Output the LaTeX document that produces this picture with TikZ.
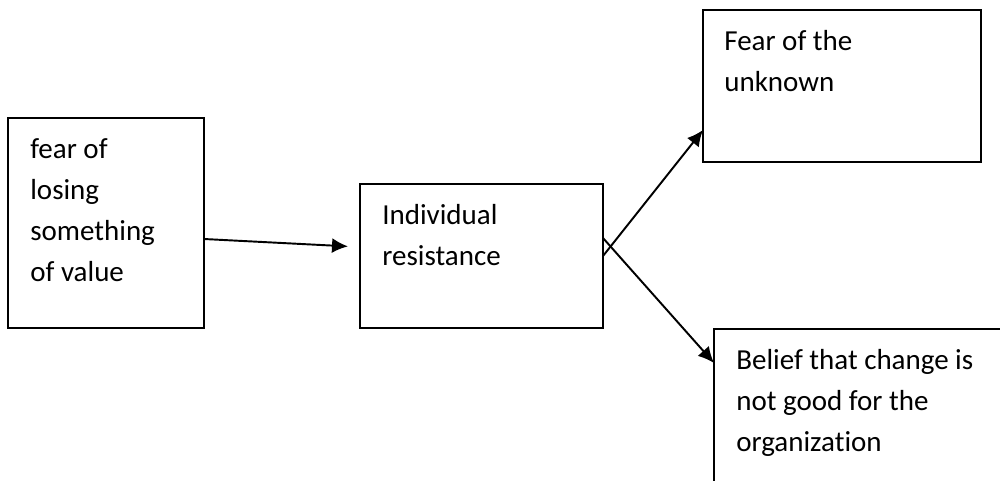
\documentclass[tikz,border=0pt]{standalone}
\usepackage{fontspec}
\setmainfont{Carlito}[Ligatures=NoCommon]
\usetikzlibrary{calc,positioning}
\usetikzlibrary{arrows.meta}
\tikzset{>={Latex[length=3.2mm,width=3mm]}}

\begin{document}
\begin{tikzpicture}[box/.style = {draw, line width=0.8pt, inner sep=0pt, outer sep=0pt},
    txt/.style = {anchor=north west, inner sep=0pt, align=left, font=\fontsize{16.5}{23.3}\selectfont}]
    \useasboundingbox (0,0) rectangle (20,9.6);
    \clip (0,0) rectangle (20,9.6);
    % boxes
    \node[box, minimum width=3.92cm, minimum height=4.2cm] (1) at (2.12,5.14) {};
    \node[box, minimum width=4.86cm, minimum height=2.88cm] (2) at (9.63,4.48) {};
    \node[box, minimum width=5.56cm, minimum height=3.04cm] (3) at (16.84,7.88) {};
    \node[box, minimum width=6cm, minimum height=3.6cm, anchor=north west] (4) at (14.28,3.02) {};
    % texts
    \node[txt] (t1) at ($(1.north west)+(0.44,-0.4)$) {fear of\\losing\\something\\of value};
    \node[txt] (t2) at ($(2.north west)+(0.44,-0.4)$) {Individual\\resistance};
    \node[txt] (t3) at ($(3.north west)+(0.42,-0.4)$) {Fear of the\\unknown};
    \node[txt] (t4) at ($(4.north west)+(0.44,-0.4)$) {Belief that change is\\not good for the\\organization};
    % arrows
    \draw[->, line width=1.1pt, shorten >=2.4mm] ($(1.east)+(0,-0.32)$) -- ($(2.west)+(0,0.18)$);
    \draw[->, line width=1.1pt] (2.east) -- ($(3.south west)+(0,0.64)$);
    \draw[->, line width=1.1pt] ($(2.east)+(0,0.36)$) -- ($(4.north west)+(0,-0.68)$);
\end{tikzpicture}
\end{document}
